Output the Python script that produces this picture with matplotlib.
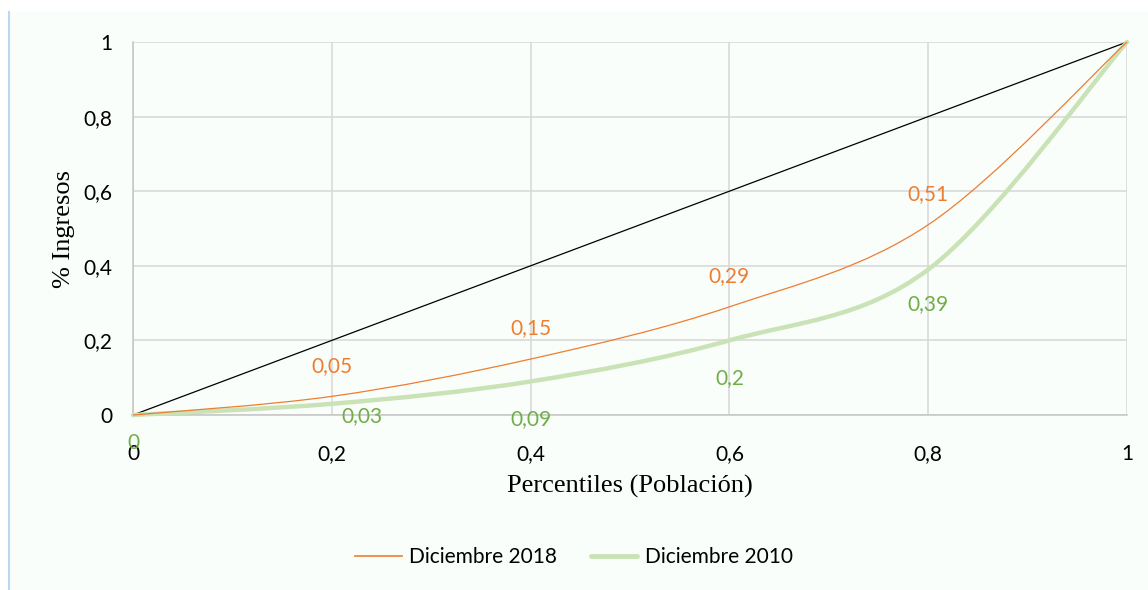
import matplotlib.pyplot as plt
import numpy as np
from matplotlib.path import Path
from matplotlib.patches import PathPatch, Rectangle
from matplotlib.lines import Line2D

# datos de la curva de Lorenz
percentiles = [0, 0.2, 0.4, 0.6, 0.8, 1]
dic_2018 = [0, 0.05, 0.15, 0.29, 0.51, 1]
dic_2010 = [0, 0.03, 0.09, 0.2, 0.39, 1]
igualdad = [0, 1]
ticks = [0, 0.2, 0.4, 0.6, 0.8, 1]
tick_labels = ['0', '0,2', '0,4', '0,6', '0,8', '1']

c_orange = '#ED7D31'
c_green_line = '#C9E3B6'
c_green_text = '#70AD47'
sans = ['Lato', 'DejaVu Sans']
serif = ['Liberation Serif', 'DejaVu Serif']
fs = 15


def smooth_path(xs, ys):
    # curva suavizada tipo Excel (bezier con tension 1/6)
    pts = np.column_stack([xs, ys])
    n = len(pts)
    verts = [pts[0]]
    codes = [Path.MOVETO]
    for i in range(n - 1):
        p0 = pts[i - 1] if i > 0 else pts[i]
        p1 = pts[i]
        p2 = pts[i + 1]
        p3 = pts[i + 2] if i + 2 < n else pts[i + 1]
        verts += [p1 + (p2 - p0) / 6, p2 - (p3 - p1) / 6, p2]
        codes += [Path.CURVE4] * 3
    return Path(verts, codes)


fig = plt.figure(figsize=(11.48, 5.9), dpi=100)
fig.patch.set_facecolor('white')
fig.patches.append(Rectangle((8 / 1148, 0), 1 - 8 / 1148, 1 - 12 / 590,
                             transform=fig.transFigure, facecolor='#FAFEFA',
                             edgecolor='none', zorder=-10))
fig.lines.append(Line2D([8.5 / 1148, 8.5 / 1148], [0, 1 - 12 / 590],
                        transform=fig.transFigure, color='#BDD7EE', lw=1.5))

ax = fig.add_axes([133 / 1148, 1 - 415 / 590, (1127 - 133) / 1148, (415 - 42) / 590])
ax.set_facecolor('#FAFEFA')
ax.set_xlim(0, 1)
ax.set_ylim(0, 1)

ax.set_xticks(ticks)
ax.set_xticklabels(tick_labels)
ax.set_yticks(ticks)
ax.set_yticklabels(tick_labels)
ax.grid(True, color='#D9D9D9', lw=1.2)
ax.set_axisbelow(True)
for s in ['top', 'right']:
    ax.spines[s].set_visible(False)
ax.spines['left'].set_color('#C8C8C8')
ax.spines['bottom'].set_color('#C8C8C8')
ax.spines['left'].set_linewidth(1.2)
ax.spines['bottom'].set_linewidth(1.2)
ax.tick_params(axis='both', length=0, labelsize=fs, colors='black')
ax.tick_params(axis='y', pad=15)
ax.tick_params(axis='x', pad=21)
for lab in ax.get_xticklabels() + ax.get_yticklabels():
    lab.set_family(sans)

ax.plot(igualdad, igualdad, color='black', lw=0.9, zorder=3, clip_on=False)
ax.add_patch(PathPatch(smooth_path(percentiles, dic_2010), facecolor='none',
                       edgecolor=c_green_line, lw=3.2, zorder=4, clip_on=False,
                       capstyle='round'))
ax.add_patch(PathPatch(smooth_path(percentiles, dic_2018), facecolor='none',
                       edgecolor=c_orange, lw=0.9, zorder=5, clip_on=False))

# etiquetas de datos
for x, y in zip(percentiles[1:-1], dic_2018[1:-1]):
    ax.annotate(str(y).replace('.', ','), (x, y), xytext=(0, 22),
                textcoords='offset points', ha='center', va='center',
                color=c_orange, fontsize=fs, family=sans)
offs_2010 = [(0, -20), (22, -9), (0, -27), (0, -27), (0, -25)]
for (x, y), off in zip(zip(percentiles[:-1], dic_2010[:-1]), offs_2010):
    ax.annotate(str(y).replace('.', ','), (x, y), xytext=off,
                textcoords='offset points', ha='center', va='center',
                color=c_green_text, fontsize=fs, family=sans)

ax.set_xlabel('Percentiles (Población)', family=serif, fontsize=19, labelpad=8)
ax.set_ylabel('% Ingresos', family=serif, fontsize=19, labelpad=6)

handles = [Line2D([], [], color=c_orange, lw=1.2),
           Line2D([], [], color=c_green_line, lw=3.5, solid_capstyle='round')]
fig.legend(handles, ['Diciembre 2018', 'Diciembre 2010'], loc='center',
           bbox_to_anchor=(574 / 1148, 1 - 557 / 590), ncol=2, frameon=False,
           prop={'family': sans, 'size': fs}, handlelength=2.25,
           columnspacing=1.6, handletextpad=0.35)

fig.savefig('out.png', dpi=100)
